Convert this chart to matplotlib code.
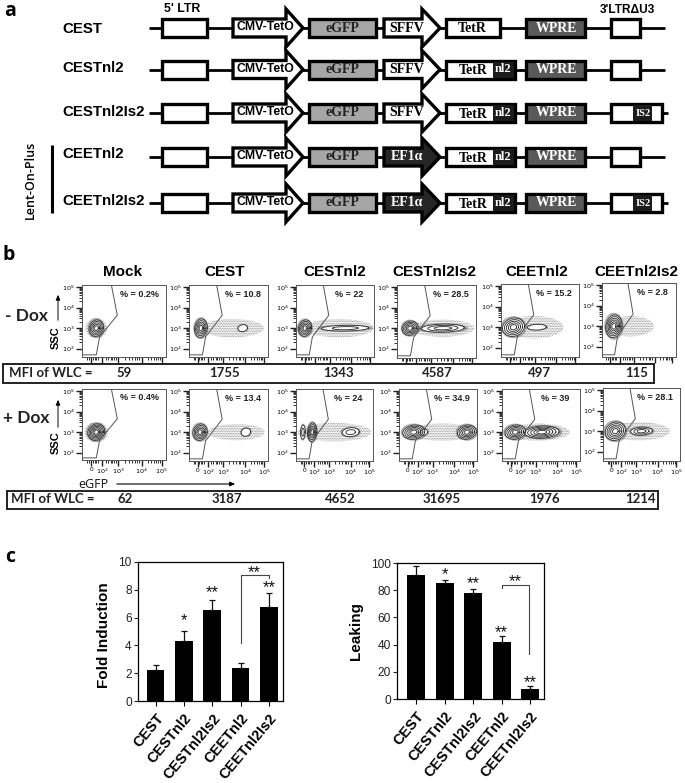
import numpy as np
import matplotlib
matplotlib.use("Agg")
import matplotlib.pyplot as plt
from matplotlib.patches import Rectangle, Polygon, Ellipse
from matplotlib.transforms import ScaledTranslation

W, H = 685, 783
SANS = ["Liberation Sans", "DejaVu Sans"]
SERIF = ["Liberation Serif", "DejaVu Serif"]
plt.rcParams["font.family"] = SANS
plt.rcParams["hatch.linewidth"] = 0.5

# ---------- panel a ----------
construct_names = ["CEST", "CESTnl2", "CESTnl2Is2", "CEETnl2", "CEETnl2Is2"]
row_y = [28, 69.5, 113, 157, 203]
label_y = [29, 68, 112, 154, 201]
has_nl2 = [False, True, True, True, True]
has_is2 = [False, False, True, False, True]
second_promoter = ["SFFV", "SFFV", "SFFV", "EF1\u03b1", "EF1\u03b1"]

# ---------- panel b ----------
flow_names = ["Mock", "CEST", "CESTnl2", "CESTnl2Is2", "CEETnl2", "CEETnl2Is2"]
title_x = [123, 225, 335, 434, 537, 636]
pct_minus = ["% = 0.2%", "% = 10.8", "% = 22", "% = 28.5", "% = 15.2", "% = 2.8"]
pct_plus = ["% = 0.4%", "% = 13.4", "% = 24", "% = 34.9", "% = 39", "% = 28.1"]
mfi_minus = ["59", "1755", "1343", "4587", "497", "115"]
mfi_plus = ["62", "3187", "4652", "31695", "1976", "1214"]
mfi_x_minus = [124, 225, 339, 437, 539, 637]
mfi_x_plus = [125, 227, 340, 442, 545, 641]
frames_minus = [(82, 166, 285, 357), (189, 268, 285, 357), (296, 374, 285, 357),
                (397, 476, 285, 358), (501, 579, 284, 357), (602, 676, 283, 357)]
frames_plus = [(82, 166, 389, 460), (189, 268, 389, 461), (296, 373, 389, 461),
               (399, 477, 389, 461), (502, 580, 389, 461), (603, 680, 388, 461)]
gate_x = [0.0, 0.17, 0.21, 0.42, 0.35]
gate_y = [0.03, 0.03, 0.28, 0.58, 1.0]
# populations: centre x (axis fraction), centre y (log10 SSC), half widths, rings
pops_minus = [
    [(0.17, 3.0, 0.085, 0.40, 5)],
    [(0.15, 3.0, 0.08, 0.45, 5), (0.68, 3.0, 0.06, 0.17, 1)],
    [(0.115, 3.0, 0.085, 0.40, 5), (0.63, 3.0, 0.30, 0.14, 2)],
    [(0.165, 3.0, 0.10, 0.35, 5), (0.58, 3.0, 0.27, 0.20, 3)],
    [(0.16, 3.0, 0.14, 0.45, 5), (0.46, 3.0, 0.12, 0.14, 1)],
    [(0.16, 3.0, 0.11, 0.55, 6)],
]
pops_plus = [
    [(0.17, 3.0, 0.10, 0.40, 6)],
    [(0.14, 3.0, 0.09, 0.40, 5), (0.72, 3.0, 0.06, 0.20, 1)],
    [(0.09, 3.0, 0.03, 0.35, 2), (0.21, 3.0, 0.06, 0.45, 5), (0.71, 3.0, 0.11, 0.22, 2)],
    [(0.19, 3.0, 0.14, 0.35, 5), (0.32, 3.0, 0.05, 0.15, 1), (0.87, 3.0, 0.12, 0.35, 5)],
    [(0.17, 3.0, 0.13, 0.35, 5), (0.51, 3.0, 0.22, 0.30, 5)],
    [(0.16, 3.0, 0.13, 0.45, 5), (0.50, 3.0, 0.14, 0.20, 3)],
]
# sparse event clouds: centre x, half width, half height (log10)
haze_minus = [(0.17, 0.13, 0.50), (0.55, 0.40, 0.45), (0.55, 0.45, 0.45),
              (0.58, 0.40, 0.42), (0.42, 0.38, 0.55), (0.38, 0.32, 0.50)]
haze_plus = [(0.17, 0.14, 0.50), (0.60, 0.36, 0.40), (0.50, 0.48, 0.45),
             (0.55, 0.46, 0.42), (0.45, 0.42, 0.42), (0.45, 0.42, 0.45)]
flow_xtick_pos = [0.11, 0.24, 0.43, 0.71, 0.95]
flow_xtick_lab = ["0", "$10^2$", "$10^3$", "$10^4$", "$10^5$"]
flow_ytick_pos = [2, 3, 4, 5]
flow_ytick_lab = ["$10^2$", "$10^3$", "$10^4$", "$10^5$"]

# ---------- panel c ----------
categories = ["CEST", "CESTnl2", "CESTnl2Is2", "CEETnl2", "CEETnl2Is2"]
fold_values = [2.2, 4.35, 6.55, 2.35, 6.75]
fold_err = [0.4, 0.7, 0.7, 0.35, 1.0]
fold_stars = ["", "*", "**", "", "**"]
fold_star_y = [0, 5.77, 7.82, 0, 8.18]
leak_values = [91.5, 85, 78, 42, 7.5]
leak_err = [6.5, 2.5, 3, 4, 2]
leak_stars = ["", "*", "**", "**", "**"]
leak_star_y = [0, 91.2, 84.7, 48.7, 12.2]

fig = plt.figure(figsize=(W / 100, H / 100), dpi=100, facecolor="white")
ov = fig.add_axes([0, 0, 1, 1], zorder=0)
ov.set_xlim(0, W)
ov.set_ylim(H, 0)
ov.axis("off")
OUT = 2.4


def box(x0, x1, yc, fc, hh=9, z=3):
    ov.add_patch(Rectangle((x0, yc - hh), x1 - x0, 2 * hh, fc=fc, ec="black",
                           lw=OUT, joinstyle="miter", zorder=z))


def arrow(x0, xh, x1, yc, fc, z=3):
    pts = [(x0, yc - 9), (xh, yc - 9), (xh, yc - 19), (x1, yc), (xh, yc + 19),
           (xh, yc + 9), (x0, yc + 9)]
    ov.add_patch(Polygon(pts, closed=True, fc=fc, ec="black", lw=OUT,
                         joinstyle="miter", zorder=z))


def label(x, y, s, size, color="black", family=SANS, weight="bold", ha="center", **kw):
    ov.text(x, y, s, fontsize=size, color=color, family=family, weight=weight,
            ha=ha, va="center", zorder=6, **kw)


for i, name in enumerate(construct_names):
    y = row_y[i]
    label(62, label_y[i], name, 10.8, ha="left")
    ov.plot([149, 668 if has_is2[i] else 665], [y, y], color="black", lw=2, zorder=1,
            solid_capstyle="butt")
    box(162, 207, y, "white")
    arrow(233, 286, 303, y, "white")
    label(265, y - 1, "CMV-TetO", 8.8)
    box(309, 376, y, "#a6a6a6")
    label(342, y, "eGFP", 10, color="#222222", family=SERIF)
    dark = second_promoter[i] != "SFFV"
    arrow(384, 422, 440, y, "#262626" if dark else "white")
    label(407, y, second_promoter[i], 10, color="white" if dark else "black", family=SERIF)
    if has_nl2[i]:
        box(446, 515, y, "white")
        ov.add_patch(Rectangle((493, y - 8), 21, 16, fc="#1c1c1c", ec="none", zorder=4))
        label(473, y + 1, "TetR", 10, family=SERIF)
        label(503, y, "nl2", 9, color="white", family=SERIF)
    else:
        box(446, 500, y, "white")
        label(472, y, "TetR", 10, family=SERIF)
    box(526, 585, y, "#595959")
    label(557, y, "WPRE", 10, color="white", family=SERIF)
    if has_is2[i]:
        box(611, 662, y, "white")
        ov.add_patch(Rectangle((633, y - 8), 19, 16, fc="#1c1c1c", ec="none", zorder=4))
        label(643, y, "IS2", 7.5, color="white", family=SERIF)
    else:
        box(611, 640, y, "white")

label(182, 9, "5' LTR", 8.8)
label(627, 10, "3'LTR\u0394U3", 8.6)
label(30, 180, "Lent-On-Plus", 9, rotation=90, family=["Open Sans"], weight="semibold")
ov.plot([52, 52], [145, 213], color="black", lw=2.2, zorder=2, solid_capstyle="butt")
label(10, 11, "a", 14, ha="center", family=["Open Sans"])
label(9, 255, "b", 14, ha="center", family=["Open Sans"])
label(10, 557, "c", 14, ha="center", family=["Open Sans"])

# ---------- flow plots ----------
t = np.linspace(0, 2 * np.pi, 80)
minor_y = [d + np.log10(m) for d in range(2, 5) for m in range(2, 10)]
minor_x_fracs = [0.06, 0.08, 0.13, 0.15, 0.17, 0.19, 0.28, 0.31, 0.34, 0.36, 0.38, 0.40,
                 0.51, 0.56, 0.60, 0.63, 0.65, 0.68, 0.78, 0.82, 0.86, 0.88, 0.91, 0.93]


def flow(frame, pops, haze, pct, xlabels):
    x0, x1, y0, y1 = frame
    ax = fig.add_axes([x0 / W, 1 - y1 / H, (x1 - x0) / W, (y1 - y0) / H], zorder=2)
    top = 5 + ((y1 - y0) * 0.03) / 20.5
    ax.set_xlim(0, 1)
    ax.set_ylim(top - (y1 - y0) / 20.5, top)
    for s in ax.spines.values():
        s.set_color("#555555")
        s.set_linewidth(0.7)
    ylo = top - (y1 - y0) / 20.5
    gy = [ylo + g * (top - ylo) for g in gate_y]
    ax.plot(gate_x, gy, color="#555555", lw=0.7, zorder=2)
    hx, hw, hh = haze
    ax.add_patch(Ellipse((hx, 3.0), 2 * hw, 2 * hh, fc="none", ec="#808080", lw=0,
                         hatch="..........", zorder=1))
    for cx, cy, a, b, n in pops:
        # dense rim of events round each population
        ax.add_patch(Ellipse((cx, cy), 2.4 * a, 2.4 * b, fc="none", ec="#555555", lw=0,
                             hatch="................", zorder=1.5))
        ax.add_patch(Ellipse((cx, cy), 2 * a, 2 * b, fc="white", ec="none", zorder=3))
        for k in range(n):
            s = 1 - k / max(n, 1) * 0.9
            ax.plot(cx + a * s * np.cos(t) + 0.125 * a * s * np.sin(t),
                    cy + b * s * np.sin(t), color="#333333", lw=0.65, zorder=4)
    ax.set_xticks(flow_xtick_pos)
    ax.set_xticklabels(flow_xtick_lab if xlabels else [])
    ax.set_yticks(flow_ytick_pos)
    ax.set_yticklabels(flow_ytick_lab)
    ax.set_xticks(minor_x_fracs, minor=True)
    ax.set_yticks(minor_y, minor=True)
    ax.tick_params(which="major", length=4, width=1.0, labelsize=4.6, pad=1, color="#222222")
    ax.tick_params(which="minor", length=2.5, width=0.7, color="#333333")
    ax.text(0.68, 0.875, pct, transform=ax.transAxes, fontsize=6.5, weight="bold",
            ha="center", va="center", color="#222222")


for i in range(6):
    flow(frames_minus[i], pops_minus[i], haze_minus[i], pct_minus[i], False)
    flow(frames_plus[i], pops_plus[i], haze_plus[i], pct_plus[i], True)
    label(title_x[i], 272, flow_names[i], 11)
    label(mfi_x_minus[i], 373, mfi_minus[i], 9.5, color="#222222", family=["Lato"])
    label(mfi_x_plus[i], 499, mfi_plus[i], 9.5, color="#222222", family=["Lato"])

label(5, 316, "- Dox", 12.5, ha="left", color="#222222", family=["Lato"])
label(3, 418, "+ Dox", 12.5, ha="left", color="#222222", family=["Lato"])
for yc, ytop, ybot in [(338, 292, 323), (443, 397, 430)]:
    label(56, yc, "SSC", 8, rotation=90)
    ov.annotate("", xy=(58, ytop), xytext=(58, ybot),
                arrowprops=dict(arrowstyle="-|>,head_width=0.13,head_length=0.3", color="black", lw=0.7))
ov.add_patch(Rectangle((3, 364), 651, 19, fc="none", ec="#222222", lw=1.4, zorder=2))
ov.add_patch(Rectangle((7, 491), 651, 18, fc="none", ec="#222222", lw=1.4, zorder=2))
label(9, 373, "MFI of WLC =", 9.5, ha="left", color="#222222", family=["Lato"])
label(11, 499, "MFI of WLC =", 9.5, ha="left", color="#222222", family=["Lato"])
label(78, 484, "eGFP", 9, ha="left", weight="normal", color="#111111", family=["Open Sans"])
ov.annotate("", xy=(238, 484), xytext=(114, 484),
            arrowprops=dict(arrowstyle="-|>,head_width=0.13,head_length=0.3", color="black", lw=0.8))


# ---------- bar charts ----------
def bars(box_px, xlim, values, err, ylim, yticks, ylabel, ylab_xy, stars, star_y):
    x0, x1, y0, y1 = box_px
    ax = fig.add_axes([x0 / W, 1 - y1 / H, (x1 - x0) / W, (y1 - y0) / H], zorder=3)
    xs = np.arange(len(values))
    ax.bar(xs, values, width=0.63, color="black")
    ax.errorbar(xs, values, yerr=[np.zeros(len(err)), err], fmt="none", ecolor="#111111",
                elinewidth=0.9, capsize=2.2, capthick=0.9)
    ax.set_xlim(*xlim)
    ax.set_ylim(*ylim)
    ax.set_yticks(yticks)
    ax.set_xticks(xs)
    ax.set_xticklabels(categories, rotation=50, ha="right", rotation_mode="anchor",
                       fontsize=10.5, weight="bold")
    shift = ScaledTranslation(3 / 72, 0, fig.dpi_scale_trans)
    for lab in ax.get_xticklabels():
        lab.set_transform(lab.get_transform() + shift)
    ax.tick_params(axis="y", length=3, width=0.8, labelsize=8.6, pad=1.5, colors="#222222")
    ax.tick_params(axis="x", length=3.5, width=0.8, pad=4)
    for s in ax.spines.values():
        s.set_linewidth(0.9)
    for xv, st, yv in zip(xs, stars, star_y):
        if st:
            ax.text(xv, yv, st, fontsize=12, ha="center", va="center", color="#111111")
    label(ylab_xy[0], ylab_xy[1], ylabel, 11, rotation=90)
    return ax


a1 = bars((138, 283, 562, 701), (-0.62, 4.5), fold_values, fold_err, (0, 10),
          [0, 2, 4, 6, 8, 10], "Fold Induction", (104, 635), fold_stars, fold_star_y)
a1.plot([3, 3, 4.01, 4.01], [4.2, 9.06, 9.06, 8.84], color="#444444", lw=0.8)
a1.text(3.5, 9.27, "**", fontsize=12, ha="center", va="center", color="#111111")

a2 = bars((397, 544, 563, 699), (-0.68, 4.49), leak_values, leak_err, (0, 100),
          [0, 20, 40, 60, 80, 100], "Leaking", (356, 631), leak_stars, leak_star_y)
a2.plot([3.03, 3.03, 3.95, 3.95], [81.6, 84, 84, 33], color="#444444", lw=0.8)
a2.text(3.49, 86.2, "**", fontsize=12, ha="center", va="center", color="#111111")

fig.savefig("out.png", dpi=100)
